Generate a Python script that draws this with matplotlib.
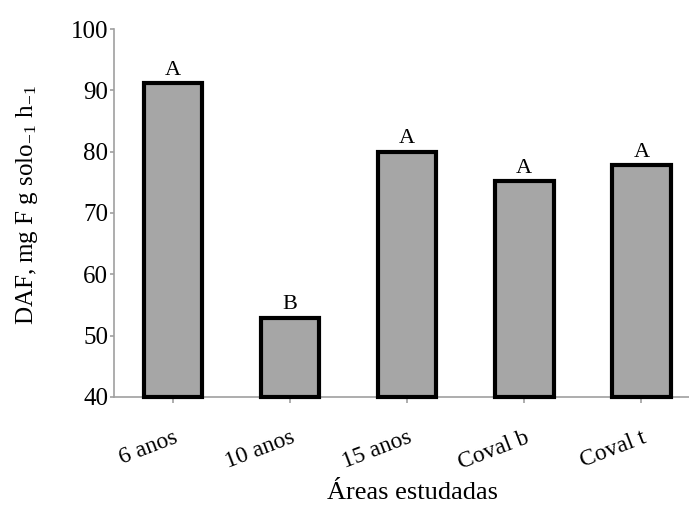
import matplotlib.pyplot as plt

plt.rcParams['font.family'] = 'Liberation Serif'
plt.rcParams['mathtext.fontset'] = 'stix'

# Data
areas = ['6 anos', '10 anos', '15 anos', 'Coval b', 'Coval t']
daf = [91.2, 52.9, 80.0, 75.2, 77.8]
letters = ['A', 'B', 'A', 'A', 'A']

fig = plt.figure(figsize=(6.89, 5.12), dpi=100)
ax = fig.add_axes([0.166, 0.225, 0.85, 0.718])

x = range(len(areas))
bars = ax.bar(x, [v - 40 for v in daf], bottom=40, width=0.5,
              color='#a6a6a6', edgecolor='black', linewidth=3, zorder=3)
for b in bars:
    b.set_clip_on(False)
    b.set_capstyle('projecting')

for xi, v, lt in zip(x, daf, letters):
    ax.annotate(lt, (xi, v), xytext=(0, 2.5), textcoords='offset points',
                ha='center', va='bottom', fontsize=16)

ax.set_ylim(40, 100)
ax.set_yticks(range(40, 101, 10))
ax.set_xlim(-0.5, 4.5)
ax.set_xticks(list(x))
ax.set_xticklabels(areas, rotation=21, ha='right', va='top',
                   rotation_mode='anchor', fontsize=17)
ax.tick_params(axis='y', labelsize=18, color='#a0a0a0', length=3, width=1.2, pad=1.5)
ax.tick_params(axis='x', color='#a0a0a0', length=4, width=1.2, pad=18)

for s in ['top', 'right']:
    ax.spines[s].set_visible(False)
for s in ['left', 'bottom']:
    ax.spines[s].set_color('#a0a0a0')
    ax.spines[s].set_linewidth(1.2)

ax.set_ylabel(r'DAF, mg F g solo$_{\mathregular{-1}}$ h$_{\mathregular{-1}}$',
              fontsize=18)
ax.yaxis.set_label_coords(-0.127, 0.522)
ax.set_xlabel('Áreas estudadas', fontsize=19, va='top')
ax.xaxis.set_label_coords(0.509, -0.232)

plt.savefig('out.png', dpi=100)
